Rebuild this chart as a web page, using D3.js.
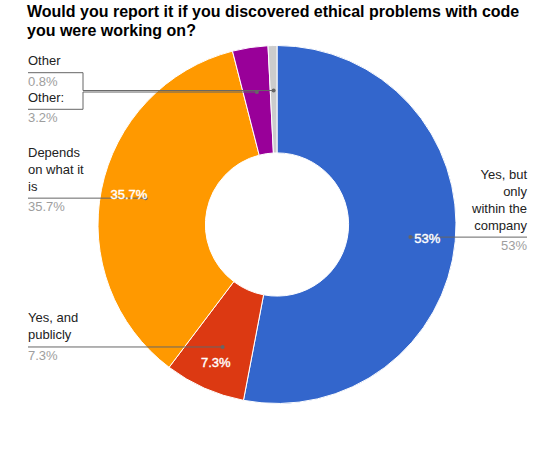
<!DOCTYPE html>
<html><head><meta charset="utf-8">
<script src="https://cdn.jsdelivr.net/npm/d3@7"></script>
<style>
html,body{margin:0;padding:0;background:#fff;}
svg{display:block;font-family:Arial,"Liberation Sans",sans-serif;}
</style></head>
<body>
<svg id="chart" width="553" height="450"></svg>
<script>
const title = ["Would you report it if you discovered ethical problems with code", "you were working on?"];
const categories = ["Yes, but only within the company", "Yes, and publicly", "Depends on what it is", "Other:", "Other"];
const values = [53, 7.3, 35.7, 3.2, 0.8];
const valueLabels = ["53%", "7.3%", "35.7%", "3.2%", "0.8%"];
const sliceLabels = ["53%", "7.3%", "35.7%", "", ""];
const colors = ["#3366cc", "#dc3912", "#ff9900", "#990099", "#cccccc"];

const svg = d3.select("#chart");
const W = 553, H = 450;
const cx = 277, cy = 224.5, R = 179, r0 = R * 0.4;

svg.append("rect").attr("width", W).attr("height", H).attr("fill", "#fff");

svg.append("g").selectAll("text").data(title).join("text")
  .attr("x", 27).attr("y", (d, i) => 17 + i * 19)
  .attr("font-size", 16).attr("font-weight", "bold").attr("fill", "#000")
  .text(d => d);

const data = categories.map((c, i) => ({ cat: c, value: values[i], label: valueLabels[i], slice: sliceLabels[i], color: colors[i], i }));

const pie = d3.pie().value(d => d.value).sort(null);
const arcs = pie(data);
const arc = d3.arc().innerRadius(r0).outerRadius(R);
const labelArc = d3.arc().innerRadius(151).outerRadius(151);
const dotArc = d3.arc().innerRadius(134).outerRadius(134);

const g = svg.append("g").attr("transform", `translate(${cx},${cy})`);
g.selectAll("path").data(arcs).join("path")
  .attr("d", arc).attr("fill", d => d.data.color)
  .attr("stroke", "#fff").attr("stroke-width", 1);

// leader lines
const lineColor = "#666";
const layout = {
  0: { side: "right", x: 527 },
  1: { side: "left", x: 28 },
  2: { side: "left", x: 28 },
  3: { side: "left", x: 28, elbowX: 83, labelY: 109.3 },
  4: { side: "left", x: 28, elbowX: 83, labelY: 72.7 }
};

const lines = svg.append("g");
const labels = svg.append("g").attr("font-size", 13);

function wrap(text, width) {
  const words = text.split(" ");
  const out = [];
  let cur = "";
  const tmp = labels.append("text").attr("visibility", "hidden");
  words.forEach(w => {
    const t = cur ? cur + " " + w : w;
    tmp.text(t);
    if (cur && tmp.node().getComputedTextLength() > width) { out.push(cur); cur = w; }
    else cur = t;
  });
  out.push(cur);
  tmp.remove();
  return out;
}

arcs.forEach((a, k) => {
  const L = layout[k];
  const [dx, dy] = dotArc.centroid(a);
  const px = cx + dx, py = cy + dy;
  let ly = py;
  let pts;
  if (L.elbowX !== undefined) {
    ly = L.labelY;
    pts = [[L.x, ly], [L.elbowX, ly], [L.elbowX, py], [px, py]];
  } else {
    pts = [[L.x, py], [px, py]];
  }
  lines.append("path").attr("d", d3.line()(pts))
    .attr("fill", "none").attr("stroke", lineColor).attr("stroke-width", 1);
  lines.append("circle").attr("cx", px).attr("cy", py).attr("r", 2).attr("fill", lineColor);

  const anchor = L.side === "right" ? "end" : "start";
  const words = (L.elbowX !== undefined) ? [a.data.cat] : wrap(a.data.cat, 60);
  const n = words.length;
  words.forEach((w, j) => {
    labels.append("text").attr("x", L.x).attr("y", ly - 7.5 - (n - 1 - j) * 17)
      .attr("text-anchor", anchor).attr("fill", "#222").text(w);
  });
  labels.append("text").attr("x", L.x).attr("y", ly + 13)
    .attr("text-anchor", anchor).attr("fill", "#9e9e9e").text(a.data.label);
});

// slice labels
svg.append("g").attr("transform", `translate(${cx},${cy})`)
  .selectAll("text").data(arcs.filter(a => a.data.slice)).join("text")
  .attr("transform", d => `translate(${labelArc.centroid(d)})`)
  .attr("text-anchor", "middle").attr("dy", "0.35em")
  .attr("font-size", 13).attr("fill", "#fff")
  .attr("stroke", "#fff").attr("stroke-width", 0.4)
  .text(d => d.data.slice);
</script>
</body></html>
